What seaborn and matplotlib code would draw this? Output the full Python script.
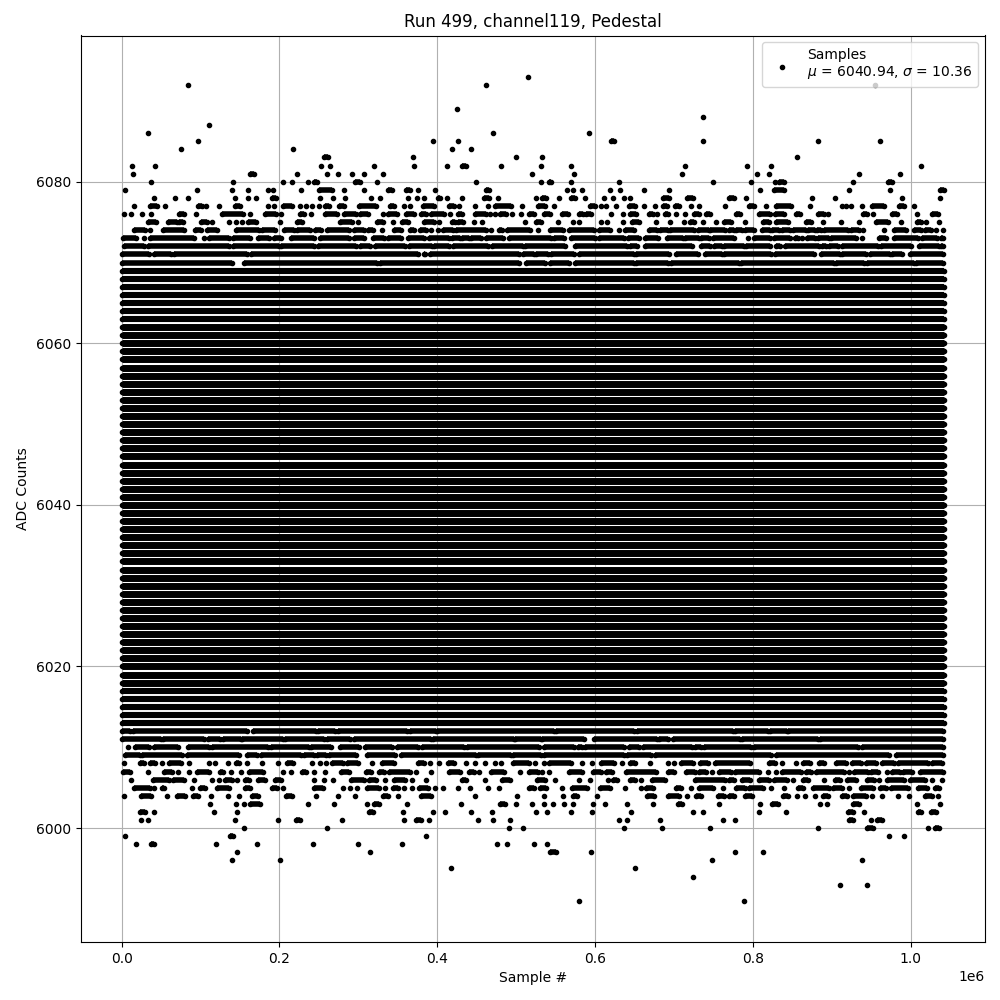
import pandas as pd
import matplotlib
matplotlib.use('Agg')
import matplotlib.pyplot as plt
import seaborn as sns

# sample positions, in thousands of samples
# a plain number is a lone dot, a tuple is a stretch of touching dots
row_6093 = [515]
row_6092 = [84, 462, 955]
row_6089 = [425]
row_6088 = [737]
row_6087 = [111]
row_6086 = [33, 471, 592]
row_6085 = [97, 395, 426, (620, 624), 737, 883, 961]
row_6084 = [75, 217, 419, 443]
row_6083 = [(257, 262), 369, 500, 533, 856]
row_6082 = [13, 42, 253, 264, 320, 370, 412, (431, 436), 481, 531, 570, 714, 792, 823, 1013]
row_6081 = [14, (163, 168), 222, 260, 274, 292, 307, 331, 520, 573, 710, 805, 820, 934, 987]
row_6080 = [37, 141, 205, 216, 236, (244, 248), (296, 302), 324, 449, 531, (542, 544), 570, 630,
            749, 797, 828, (833, 840), 927, (971, 976)]
row_6079 = [4, 96, 140, 160, 186, 192, 227, (250, 266), 282, 307, (338, 343), (360, 365), 376, 397,
            (462, 466), 564, 572, 584, 619, 632, 662, 694, 809, (827, 840), 922, 974, (1037, 1042)]
row_6078 = [41, 68, 84, 144, 160, 170, (191, 196), 251, 268, 283, 316, 327, 363, 374, 383, (401, 404),
            412, 431, (459, 466), 477, 525, (533, 538), 554, (570, 575), 587, 611, 623, 637, 644,
            (686, 694), (716, 724), (770, 776), 791, 875, 904, 989, 1037]
row_6077 = [16, (36, 45), 55, (97, 102), 107, 123, (144, 150), 186, 193, (205, 216), 226, 234, 241, 250,
            (258, 263), (276, 282), (301, 322), (340, 345), 358, 365, (382, 396), (415, 421), 428, 448,
            464, (473, 493), 507, (528, 537), 548, (594, 600), 608, 614, 627, (643, 651), 662, 676,
            (686, 691), (701, 706), 722, 732, 765, (795, 801), 817, (829, 848), 872, 913, 918, 924, 938,
            (951, 966), (985, 992), 1004]
row_6076 = [3, 12, 26, 37, (73, 79), 94, (127, 154), 163, (182, 196), 202, (226, 231), 240, (258, 273),
            (282, 297), (302, 312), 331, (338, 349), (360, 370), (379, 386), (392, 409), 416, (426, 431),
            (448, 462), 467, 473, (480, 487), 495, 506, (516, 523), (535, 543), (558, 566), (580, 585),
            (589, 595), 620, 635, (644, 652), (668, 673), 678, (689, 692), 703, 714, (725, 732), (741, 746),
            (779, 784), (808, 822), (828, 840), (855, 860), (883, 890), 895, (940, 945), 952, (976, 983),
            1008, (1027, 1035)]
row_6075 = [(33, 44), (59, 70), (73, 78), (101, 108), 115, 136, 145, 153, (160, 170), 201, (222, 229),
            (277, 292), 299, (324, 331), 344, (355, 363), (383, 396), 402, (419, 423), (426, 433), 447, 457,
            511, (525, 531), 553, 572, 580, 608, 615, 635, (647, 656), 677, 695, 713, (720, 725), 737, 753,
            (763, 772), 790, (813, 820), (829, 845), (867, 874), 889, 912, 935, (956, 971), 988,
            (1008, 1013), 1019, 1036]
row_6074 = [(16, 30), 36, (52, 79), (93, 101), (108, 121), (145, 174), (178, 194), (206, 218), (222, 239),
            (245, 253), (260, 288), (295, 307), (312, 319), 330, (345, 354), (365, 371), (378, 386), 392, 401,
            (407, 420), (424, 462), 468, (478, 482), (488, 518), 528, (543, 559), (567, 599), (605, 619), 630,
            (638, 649), (668, 679), (682, 692), (695, 725), (730, 744), (746, 765), (770, 776), (779, 786),
            (790, 801), (812, 822), (824, 833), (837, 847), (851, 867), (870, 879), (881, 886), (890, 920),
            (924, 935), 940, 966, (979, 994), (1004, 1013), (1018, 1026), 1032, 1041]
row_6073 = [(2, 18), 28, (36, 92), 104, (111, 136), (141, 163), (173, 187), (193, 202), (215, 244),
            (251, 288), (295, 307), (319, 333), (338, 354), (363, 383), (390, 415), (419, 429), (431, 440),
            (443, 455), (462, 483), (491, 544), (548, 561), (569, 600), (605, 637), (642, 656), (663, 680),
            (691, 711), (714, 732), (734, 744), (749, 776), 794, (801, 822), (827, 847), (853, 857), 862,
            (869, 879), (883, 897), (899, 931), 938, (960, 969), (979, 1009), (1014, 1033), (1038, 1041)]
row_6072 = [(3, 28), (33, 136), (141, 200), (202, 244), (249, 297), (302, 315), (321, 359), (364, 393),
            (396, 415), (420, 464), (469, 509), (511, 562), (575, 641), (644, 653), (663, 723), (734, 746),
            (751, 761), (763, 789), (791, 822), (829, 834), (841, 884), (888, 893), (896, 908), (913, 959),
            (962, 1000), (1011, 1036), (1038, 1041)]
row_6071 = [(1, 35), (41, 63), (66, 159), (164, 375), (383, 385), (391, 504), (509, 523), (525, 540),
            (544, 573), (580, 649), (652, 694), (703, 730), (739, 761), (763, 823), (828, 877), (886, 910),
            (913, 943), (948, 974), (976, 989), (999, 1041)]
row_6070 = [(0, 140), (155, 324), (328, 504), (512, 537), (543, 567), (575, 649), (652, 692), (696, 782),
            (785, 903), (905, 941), (944, 1004), (1007, 1041)]

row_6012 = [(0, 11), (14, 159), (167, 246), (249, 271), (274, 362), (366, 398), (400, 548), (550, 649),
            (653, 775), (777, 819), (822, 843), (845, 1041)]
row_6011 = [(0, 50), (52, 105), (109, 125), (128, 151), (153, 205), (207, 257), (260, 290), (295, 392),
            (395, 497), (499, 531), (533, 586), (599, 679), (681, 692), (699, 784), (786, 883), (885, 1041)]
row_6010 = [8, (17, 35), (41, 71), (84, 111), (115, 185), (189, 238), (240, 265), (277, 301), (308, 343),
            (349, 375), (381, 434), (438, 529), (535, 573), (578, 584), (587, 637), (643, 656), (661, 723),
            (727, 734), (738, 797), (801, 933), (938, 1041)]
row_6009 = [(4, 23), (26, 77), (83, 149), (159, 172), (176, 227), (231, 244), (248, 259), (263, 297),
            (311, 347), (354, 449), (451, 493), (496, 531), (535, 637), (641, 671), (676, 823), (829, 973),
            (981, 1041)]
row_6008 = [3, (23, 28), (36, 42), 51, (60, 75), 85, 111, 118, 135, (145, 149), 159, 178, 198, (210, 217),
            241, 251, 259, (267, 280), (286, 300), 317, (330, 345), (375, 383), 391, 402, (413, 421), 436,
            448, 461, 473, 481, (496, 516), 524, 535, (542, 569), 583, 596, (608, 624), 634, (644, 651), 669,
            692, 700, (709, 724), (733, 743), (752, 796), (820, 828), 837, 855, (864, 872), (884, 890),
            (905, 918), (926, 937), (943, 956), (964, 979), (984, 1022), (1027, 1040)]
row_6007 = [(2, 11), 33, (54, 64), 72, 85, (96, 111), (125, 128), 139, 151, (161, 179), 205, 215, (229, 234),
            244, 258, (278, 288), (310, 316), (326, 333), (339, 365), 373, 392, (415, 429), (440, 447), 453,
            (468, 485), 505, (516, 528), 533, 542, (567, 583), (597, 607), (614, 621), (639, 677), (692, 700),
            (715, 727), (732, 741), 748, (757, 772), (777, 808), 819, 829, (837, 861), (867, 874), (880, 915),
            922, (928, 946), (950, 959), 970, (976, 986), (990, 1002), (1012, 1041)]
row_6006 = [12, (40, 60), (65, 79), 92, 115, 123, (131, 140), 146, (156, 161), (173, 182), (195, 202), 244,
            256, 268, (291, 307), (313, 322), 334, (345, 359), 368, 386, (431, 436), 461, (482, 492),
            (526, 537), 549, 580, 594, 616, (623, 628), (644, 651), 658, (672, 689), (727, 765), (770, 776),
            (786, 796), (808, 820), (827, 843), 851, (864, 870), 890, (904, 910), (919, 931), (945, 954), 960,
            (970, 992), (999, 1018), 1027, 1040]
row_6005 = [(16, 36), 41, (51, 54), 89, (99, 106), (121, 136), (156, 163), (191, 197), 205, (244, 255), 281,
            290, 298, (311, 326), 334, (344, 350), 358, 368, (377, 388), 397, 407, 426, 441, 464, 478,
            (516, 523), (530, 538), 558, (571, 590), (606, 619), 638, 658, (665, 673), (703, 709), 722,
            (732, 749), 762, (779, 790), (795, 813), 823, 839, (857, 864), (876, 896), (902, 913), 922,
            (937, 952), (961, 969), (975, 997), (1009, 1021), (1031, 1036)]
row_6004 = [3, (25, 37), 58, (70, 80), (90, 97), 113, 135, 149, (165, 173), (208, 216), 246, 274, 296,
            (331, 338), 350, (379, 392), 448, 501, 535, 559, (572, 577), 602, (666, 675), (692, 706), 717,
            (728, 734), (756, 763), (770, 776), (790, 799), (838, 845), 856, 866, 879, (889, 895), (913, 919),
            (927, 943), 951, 964, 984, 998, (1018, 1027), 1035]
row_6003 = [112, 145, 155, (163, 175), 236, 269, 311, (320, 326), 362, 430, (480, 486), 500, 520, 535, 547,
            561, 572, 597, 613, 640, 673, (705, 710), 757, 809, (824, 832), 885, 894, (927, 934), 1008, 1037]
row_6002 = [(23, 30), 41, 117, 146, (314, 319), 357, 395, 410, 443, 469, 525, 539, 570, 596, 646, 724, 737,
            808, 842, (921, 927), 941, (1009, 1013), (1026, 1032)]
row_6001 = [25, 33, 144, 198, (221, 226), 279, 358, (373, 379), 390, 452, 471, 492, 630, 640, 682, 762, 777,
            (922, 927), 950, (957, 964)]
row_6000 = [155, 260, 491, 509, 637, 685, 746, 883, (945, 952), 1022, (1031, 1036)]
row_5999 = [4, (137, 141), 386, 973, 992]
row_5998 = [18, (37, 41), 120, 172, 243, 300, 355, 476, 488, 523, 539]
row_5997 = [146, 315, (543, 550), 595, 777, 813]
row_5996 = [140, 201, 748, 938]
row_5995 = [417, 651]
row_5994 = [724]
row_5993 = [910, 945]
row_5991 = [580, 789]

sparse_rows = [
    (6093, row_6093), (6092, row_6092), (6089, row_6089), (6088, row_6088), (6087, row_6087),
    (6086, row_6086), (6085, row_6085), (6084, row_6084), (6083, row_6083), (6082, row_6082),
    (6081, row_6081), (6080, row_6080), (6079, row_6079), (6078, row_6078), (6077, row_6077),
    (6076, row_6076), (6075, row_6075), (6074, row_6074), (6073, row_6073), (6072, row_6072),
    (6071, row_6071), (6070, row_6070), (6012, row_6012), (6011, row_6011), (6010, row_6010),
    (6009, row_6009), (6008, row_6008), (6007, row_6007), (6006, row_6006), (6005, row_6005),
    (6004, row_6004), (6003, row_6003), (6002, row_6002), (6001, row_6001), (6000, row_6000),
    (5999, row_5999), (5998, row_5998), (5997, row_5997), (5996, row_5996), (5995, row_5995),
    (5994, row_5994), (5993, row_5993), (5991, row_5991),
]

# these levels are solid from the first sample to the last
fringe_levels = [6013, 6014, 6015, 6016, 6017, 6063, 6064, 6065, 6066, 6067, 6068, 6069]
core_levels = list(range(6018, 6063))
first_sample = 0
last_sample = 1041.6


def solid_frame(levels, start_id):
    rows = []
    for i, level in enumerate(levels):
        rows += [(first_sample, level, start_id + i), (last_sample, level, start_id + i)]
    df = pd.DataFrame(rows, columns=['sample', 'adc', 'run'])
    df['sample'] *= 1000
    return df


def build_frames():
    dots = []
    runs = []
    run_id = 0
    for level, row in sparse_rows:
        for item in row:
            if isinstance(item, tuple):
                dots += [(item[0], level), (item[1], level)]
                runs += [(item[0], level, run_id), (item[1], level, run_id)]
                run_id += 1
            else:
                dots.append((item, level))
    for level in fringe_levels + core_levels:
        dots += [(first_sample, level), (last_sample, level)]
    df_dots = pd.DataFrame(dots, columns=['sample', 'adc'])
    df_runs = pd.DataFrame(runs, columns=['sample', 'adc', 'run'])
    df_dots['sample'] *= 1000
    df_runs['sample'] *= 1000
    return df_dots, df_runs, run_id


def draw_runs(df, width, ax):
    sns.lineplot(data=df, x='sample', y='adc', units='run', estimator=None, color='k',
                 linewidth=width, solid_capstyle='butt', legend=False, ax=ax, zorder=2)


def main():
    df_dots, df_runs, next_id = build_frames()
    fig, ax = plt.subplots(figsize=(10, 10), dpi=100)
    draw_runs(df_runs, 4, ax)
    draw_runs(solid_frame(fringe_levels, next_id), 4.4, ax)
    draw_runs(solid_frame(core_levels, next_id + 100), 5, ax)
    sns.scatterplot(data=df_dots, x='sample', y='adc', marker='.', s=36, color='k', edgecolor='k',
                    linewidth=1, ax=ax, zorder=2,
                    label='Samples\n$\\mu$ = 6040.94, $\\sigma$ = 10.36')
    ax.grid(True)
    ax.set_title('Run 499, channel119, Pedestal')
    ax.set_xlabel('Sample #')
    ax.set_ylabel('ADC Counts')
    ax.legend(loc='upper right')
    fig.subplots_adjust(left=0.0805, right=0.985, top=0.9645, bottom=0.058)
    fig.savefig('out.png', dpi=100)


if __name__ == '__main__':
    main()
